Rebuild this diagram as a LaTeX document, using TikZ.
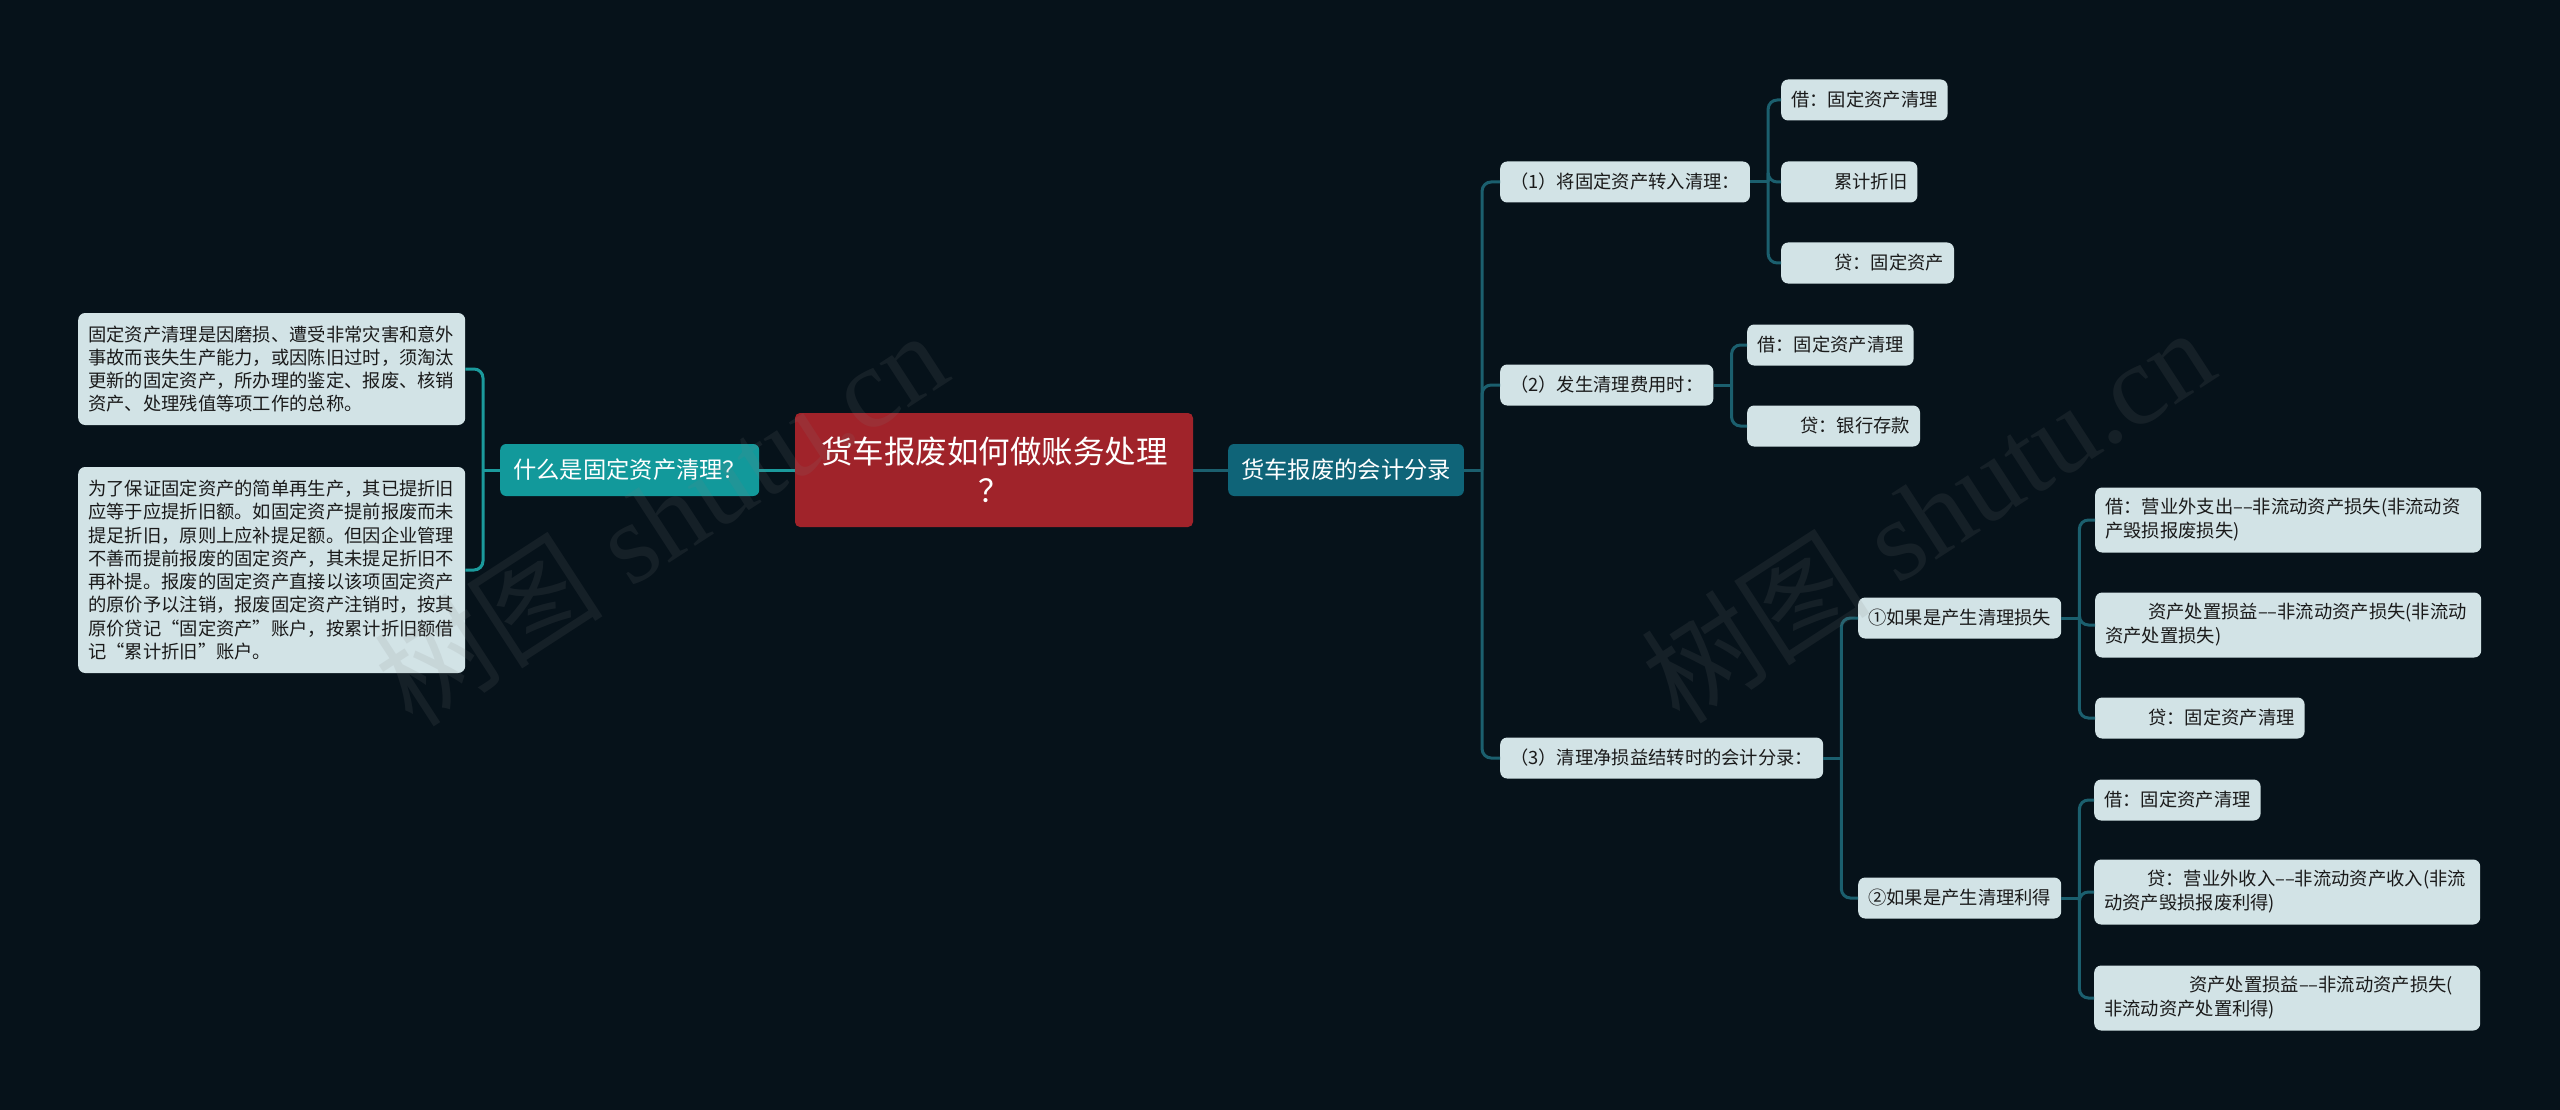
\documentclass[tikz,border=0pt]{standalone}
\usepackage{fontspec}
\newfontfamily\cjk{Noto Sans CJK SC}
\newfontfamily\wmfont{Liberation Serif}
\usetikzlibrary{positioning}
\definecolor{bgdark}{HTML}{06121A}
\definecolor{rootred}{HTML}{A0232A}
\definecolor{tealL}{HTML}{12999B}
\definecolor{tealR}{HTML}{0F6478}
\definecolor{leaffill}{HTML}{D2E3E6}
\definecolor{lineL}{HTML}{1B9A9C}
\definecolor{lineR}{HTML}{1B5F6E}
\definecolor{leaftext}{HTML}{1A1A1A}
\tikzset{
  root/.style={fill=rootred, rounded corners=5pt, text=white, align=center,
               font=\cjk\fontsize{31.5}{39}\selectfont, text width=346pt,
               minimum height=114pt, inner xsep=26pt, inner ysep=0pt},
  topic/.style={rounded corners=6pt, text=white, anchor=west,
                font=\cjk\fontsize{23.3}{28}\selectfont, minimum height=52pt,
                inner xsep=13pt, inner ysep=0pt},
  leaf/.style={fill=leaffill, rounded corners=7pt, text=leaftext, anchor=west,
               align=left, font=\cjk\fontsize{18.3}{24}\selectfont,
               minimum height=41pt, inner xsep=10pt, inner ysep=0pt},
  wide/.style={leaf, text width=366pt, minimum height=65pt},
  note/.style={leaf, text width=367pt, font=\cjk\fontsize{18.3}{23.3}\selectfont},
  link/.style={line width=3pt, rounded corners=9pt},
  wmark/.style={rotate=33, text=gray, text opacity=0.13,
                font=\wmfont\fontsize{115}{115}\selectfont},
}

\begin{document}
\begin{tikzpicture}[x=1pt, y={(0pt,-1pt)}]
\fill[bgdark] (0,0) rectangle (2560,1110);
\useasboundingbox (0,0) rectangle (2560,1110);

% centre and the two topics
\node[root] (root) at (994,470) {货车报废如何做账务处理\\？};
\node[topic, fill=tealL] (L) at (500,470) {什么是固定资产清理？};
\node[topic, fill=tealR] (R) at (1228,470) {货车报废的会计分录};
\draw[link, lineL] (root.west) -- (L.east);
\draw[link, lineR] (root.east) -- (R.west);

% left side
\node[note, minimum height=112pt] (la) at (78,369)
  {固定资产清理是因磨损、遭受非常灾害和意外\\
   事故而丧失生产能力，或因陈旧过时，须淘汰\\
   更新的固定资产，所办理的鉴定、报废、核销\\
   资产、处理残值等项工作的总称。};
\node[note, minimum height=206pt] (lb) at (78,570)
  {为了保证固定资产的简单再生产，其已提折旧\\
   应等于应提折旧额。如固定资产提前报废而未\\
   提足折旧，原则上应补提足额。但因企业管理\\
   不善而提前报废的固定资产，其未提足折旧不\\
   再补提。报废的固定资产直接以该项固定资产\\
   的原价予以注销，报废固定资产注销时，按其\\
   原价贷记“固定资产”账户，按累计折旧额借\\
   记“累计折旧”账户。};
\coordinate (jL) at ([xshift=-17pt]L.west);
\draw[link, lineL] (L.west) -- (jL);
\foreach \c in {la,lb} {
  \draw[link, lineL] (jL) |- (\c.east);
}

% right side
\foreach \n/\x/\y/\t in {p1/1500/182/{（1）将固定资产转入清理：},
                         p2/1500/385/{（2）发生清理费用时：},
                         p3/1500/758/{（3）清理净损益结转时的会计分录：},
                         q1/1858/618/{①如果是产生清理损失},
                         q2/1858/898/{②如果是产生清理利得},
                         c11/1781/100/{借：固定资产清理},
                         c12/1781/182/{\hspace*{43pt}累计折旧},
                         c13/1781/263/{\hspace*{43pt}贷：固定资产},
                         c21/1747/345/{借：固定资产清理},
                         c22/1747/426/{\hspace*{43pt}贷：银行存款},
                         d13/2095/718/{\hspace*{43pt}贷：固定资产清理},
                         d21/2094/800/{借：固定资产清理}} {
  \node[leaf] (\n) at (\x,\y) {\t};
}
\node[wide] (d11) at (2095,520)
  {借：营业外支出––非流动资产损失(非流动资\\产毁损报废损失)};
\node[wide] (d12) at (2095,625)
  {\hspace*{43pt}资产处置损益––非流动资产损失(非流动\\资产处置损失)};
\node[wide] (d22) at (2094,892)
  {\hspace*{43pt}贷：营业外收入––非流动资产收入(非流\\动资产毁损报废利得)};
\node[wide] (d23) at (2094,998)
  {\hspace*{85pt}资产处置损益––非流动资产损失(\\非流动资产处置利得)};

\foreach \p/\cs in {R/{p1,p2,p3}, p1/{c11,c12,c13}, p2/{c21,c22},
                    p3/{q1,q2}, q1/{d11,d12,d13}, q2/{d21,d22,d23}} {
  \coordinate (j\p) at ([xshift=18pt]\p.east);
  \draw[link, lineR] (\p.east) -- (j\p);
  \foreach \c in \cs {
    \draw[link, lineR] (j\p) |- (\c.west);
  }
}

% watermark
\foreach \i/\x/\y in {1/660/517, 2/1927/514} {
  \node[wmark] (wm\i) at (\x,\y) {{\cjk 树图} shutu.cn};
}
\end{tikzpicture}
\end{document}
